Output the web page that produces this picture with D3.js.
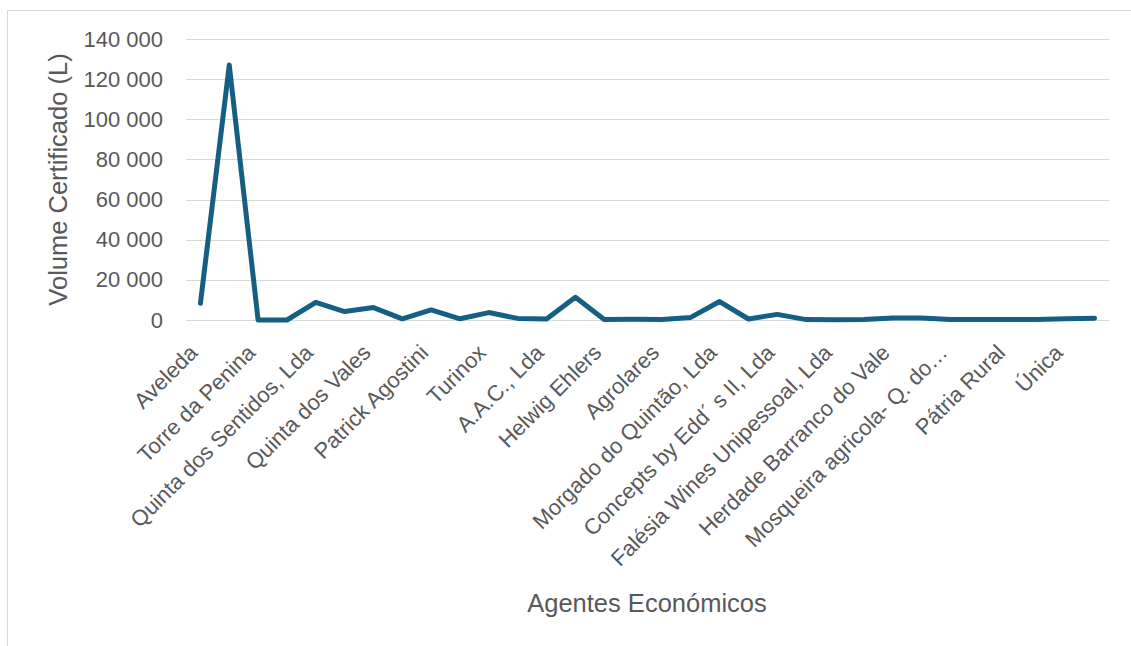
<!DOCTYPE html>
<html>
<head>
    <meta charset="utf-8">
    <script src="https://d3js.org/d3.v7.min.js"></script>
    <style>
        body { margin: 0; background: #fff; }
        svg text { font-family: 'Liberation Sans', Arial, sans-serif; fill: #595959; }
        .grid line { stroke: #d9d9d9; stroke-width: 1; }
    </style>
</head>
<body>
<div id="chart"></div>
<script>
// agentes económicos (Excel only shows every second label, the others are hidden)
var agentes = [
    'Aveleda', '', 'Torre da Penina', '', 'Quinta dos Sentidos, Lda', '',
    'Quinta dos Vales', '', 'Patrick Agostini', '', 'Turinox', '',
    'A.A.C., Lda', '', 'Helwig Ehlers', '', 'Agrolares', '',
    'Morgado do Quintão, Lda', '', 'Concepts by Edd´ s II, Lda', '',
    'Falésia Wines Unipessoal, Lda', '', 'Herdade Barranco do Vale', '',
    'Mosqueira agricola- Q. do…', '', 'Pátria Rural', '', 'Única', ''
];

// volume certificado (L)
var volumes = [
    8300, 127000, 0, 0, 8800, 4200, 6200, 600, 5000, 600, 3700, 800,
    500, 11300, 300, 400, 200, 1300, 9200, 500, 2800, 200, 100, 200,
    1000, 1000, 200, 200, 200, 300, 600, 900
];

var yTicks = [0, 20000, 40000, 60000, 80000, 100000, 120000, 140000];

var width = 1131,
    height = 646,
    plotLeft = 186,
    plotRight = 1109,
    plotTop = 39,
    plotBottom = 320;

var svg = d3.select('#chart')
    .append('svg')
    .attr('width', width)
    .attr('height', height);

// chart area border
svg.append('rect')
    .attr('x', 7.5)
    .attr('y', 10.5)
    .attr('width', 1200)
    .attr('height', 700)
    .attr('fill', '#fff')
    .attr('stroke', '#d9d9d9');

var xScale = d3.scalePoint()
    .domain(d3.range(volumes.length))
    .range([plotLeft, plotRight])
    .padding(0.5);

var yScale = d3.scaleLinear()
    .domain([0, 140000])
    .range([plotBottom, plotTop]);

var fmt = function (d) {
    return d3.format(',')(d).replace(/,/g, ' ');
};

// gridlines
svg.append('g')
    .attr('class', 'grid')
    .selectAll('line')
    .data(yTicks)
    .enter()
    .append('line')
    .attr('x1', plotLeft)
    .attr('x2', plotRight)
    .attr('y1', function (d) { return Math.round(yScale(d)) + 0.5; })
    .attr('y2', function (d) { return Math.round(yScale(d)) + 0.5; });

// y axis
var yAxis = d3.axisLeft(yScale)
    .tickValues(yTicks)
    .tickFormat(fmt)
    .tickSize(0)
    .tickPadding(23);

svg.append('g')
    .attr('id', 'y-axis')
    .attr('transform', 'translate(' + plotLeft + ', 0)')
    .call(yAxis)
    .call(function (g) { g.select('.domain').remove(); })
    .selectAll('text')
    .style('font-size', '22px')
    .attr('fill', '#595959');

// x axis, labels rotated
var xAxis = d3.axisBottom(xScale)
    .tickValues(d3.range(0, volumes.length, 2))
    .tickFormat(function (i) { return agentes[i]; })
    .tickSize(0);

var xg = svg.append('g')
    .attr('id', 'x-axis')
    .attr('transform', 'translate(0, ' + plotBottom + ')')
    .call(xAxis);

xg.select('.domain').remove();

xg.selectAll('text')
    .style('font-size', '22px')
    .attr('fill', '#595959')
    .attr('text-anchor', 'end')
    .attr('y', 0)
    .attr('dy', 0)
    .attr('transform', 'translate(-2, 34) rotate(-45)');

// line
var line = d3.line()
    .x(function (d, i) { return xScale(i); })
    .y(function (d) { return yScale(d); });

svg.append('path')
    .datum(volumes)
    .attr('d', line)
    .attr('fill', 'none')
    .attr('stroke', '#156082')
    .attr('stroke-width', 5)
    .attr('stroke-linejoin', 'round')
    .attr('stroke-linecap', 'round');

// axis titles
svg.append('text')
    .attr('transform', 'translate(67, ' + ((plotTop + plotBottom) / 2) + ') rotate(-90)')
    .attr('text-anchor', 'middle')
    .style('font-size', '25.5px')
    .text('Volume Certificado (L)');

svg.append('text')
    .attr('x', 647)
    .attr('y', 612)
    .attr('text-anchor', 'middle')
    .style('font-size', '25.5px')
    .text('Agentes Económicos');
</script>
</body>
</html>
